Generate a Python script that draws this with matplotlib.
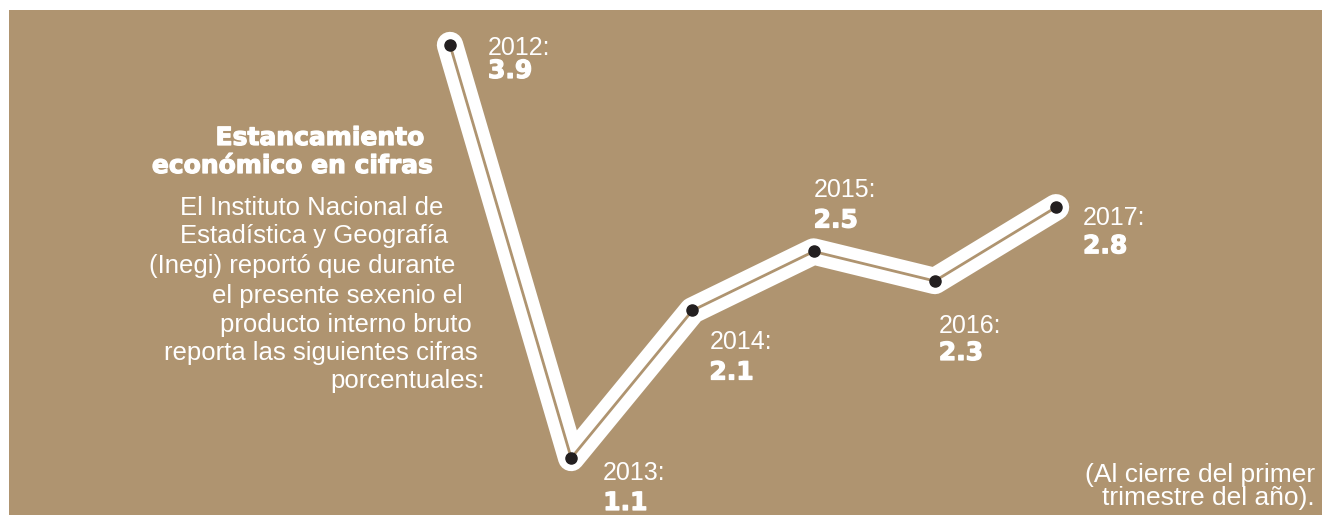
import matplotlib
matplotlib.use("Agg")
import matplotlib.pyplot as plt
import matplotlib.patheffects as pe
from matplotlib import font_manager as fm

# ---- data ----
years = [2012, 2013, 2014, 2015, 2016, 2017]
values = [3.9, 1.1, 2.1, 2.5, 2.3, 2.8]
year_labels = ["2012:", "2013:", "2014:", "2015:", "2016:", "2017:"]
value_labels = ["3.9", "1.1", "2.1", "2.5", "2.3", "2.8"]

heading = ["Estancamiento", "económico en cifras"]
body = ["El Instituto Nacional de",
        "Estadística y Geografía",
        "(Inegi) reportó que durante",
        "el presente sexenio el",
        "producto interno bruto",
        "reporta las siguientes cifras",
        "porcentuales:"]
footnote = ["(Al cierre del primer", "trimestre del año)."]

# ---- layout (pixels) ----
W, H = 1322, 515
TAN = "#AF9470"
DARK = "#231F20"


def find_font(bold):
    for f in fm.fontManager.ttflist:
        if f.name == "Liberation Sans" and "Narrow" not in f.fname:
            is_bold = f.weight in ("bold", 700) or "Bold" in f.fname
            is_italic = f.style != "normal" or "Italic" in f.fname
            if is_bold == bold and not is_italic:
                return fm.FontProperties(fname=f.fname)
    return fm.FontProperties(family="DejaVu Sans", weight="bold" if bold else "normal")


REG = find_font(False)
HEAVY = fm.FontProperties(family="DejaVu Sans", weight="bold")
STROKE = [pe.withStroke(linewidth=0.9, foreground="white")]


def fp(base, size):
    p = base.copy()
    p.set_size(size)
    return p


label_offsets = [(38, 10, 33), (32, 22, 52), (17, 39, 69),
                 (0, -54, -24), (4, 52, 79), (27, 18, 46)]
heading_pos = [(425, 145), (434, 173)]
body_pos = [(443, 215), (448, 243), (455, 273), (463, 303), (472, 332), (478, 360), (485, 388)]
foot_pos = [(1085, 482), (1102, 505)]

fig = plt.figure(figsize=(W / 100, H / 100), dpi=100, facecolor="white")
left_px, top_px = 9, 10
ax = fig.add_axes([left_px / W, 0, (W - left_px) / W, (H - top_px) / H])
ax.set_facecolor(TAN)
for s in ax.spines.values():
    s.set_visible(False)
ax.set_xticks([])
ax.set_yticks([])

px_per_year = 121.2
px_per_unit = 147.5
x0_px, y0_px = 450, 45
ax.set_xlim(years[0] - (x0_px - left_px) / px_per_year, years[0] + (W - x0_px) / px_per_year)
ax.set_ylim(values[0] - (H - y0_px) / px_per_unit, values[0] + (y0_px - top_px) / px_per_unit)

ax.plot(years, values, color="white", lw=19, solid_capstyle="round",
        solid_joinstyle="round", zorder=2, clip_on=False)
ax.plot(years, values, color=TAN, lw=2.0, solid_capstyle="butt",
        solid_joinstyle="round", zorder=3, clip_on=False)
ax.plot(years, values, "o", color=DARK, ms=8, zorder=4, clip_on=False)

for yr, v, yl, vl, (dx, dy1, dy2) in zip(years, values, year_labels, value_labels, label_offsets):
    ax.annotate(yl, (yr, v), xytext=(dx, -dy1), textcoords="offset pixels",
                ha="left", va="baseline", color="white", fontproperties=fp(REG, 18),
                annotation_clip=False)
    ax.annotate(vl, (yr, v), xytext=(dx, -dy2), textcoords="offset pixels",
                ha="left", va="baseline", color="white", fontproperties=fp(HEAVY, 18),
                annotation_clip=False, path_effects=STROKE)

for s, (x, y) in zip(heading, heading_pos):
    fig.text(x / W, 1 - y / H, s, ha="right", va="baseline", color="white",
             fontproperties=fp(HEAVY, 18), path_effects=STROKE)
for s, (x, y) in zip(body, body_pos):
    fig.text(x / W, 1 - y / H, s, ha="right", va="baseline", color="white",
             fontproperties=fp(REG, 18.5))
for s, (x, y) in zip(footnote, foot_pos):
    fig.text(x / W, 1 - y / H, s, ha="left", va="baseline", color="white",
             fontproperties=fp(REG, 19))

fig.savefig("out.png", dpi=100, facecolor="white")
